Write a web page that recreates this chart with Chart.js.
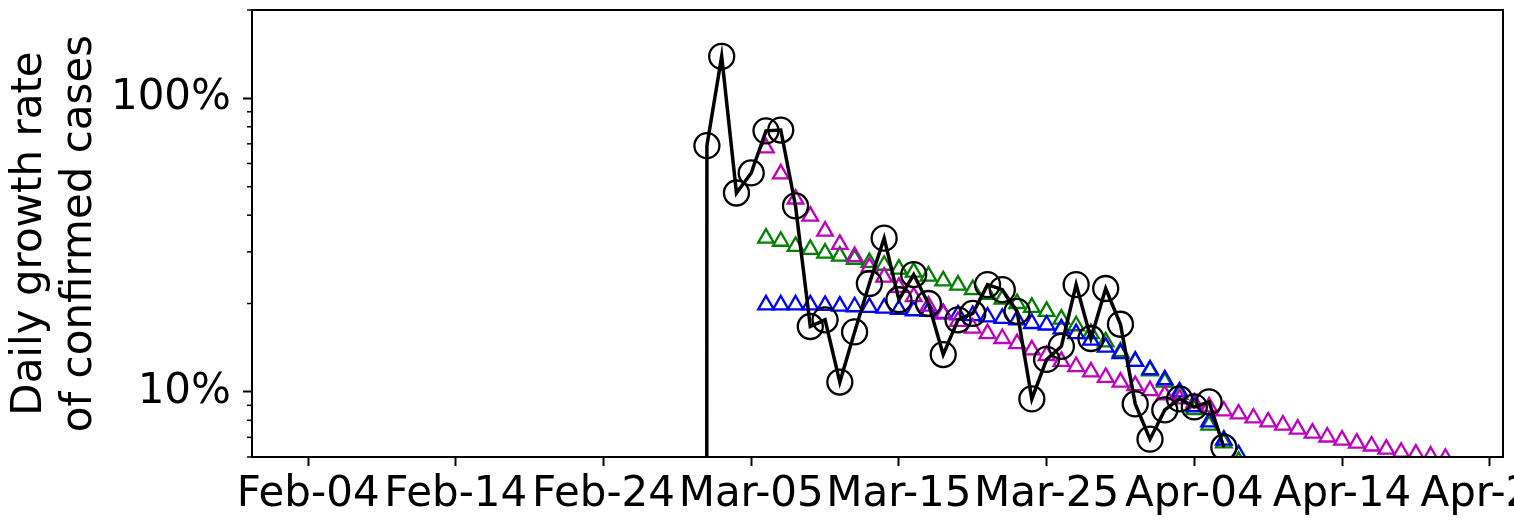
<!DOCTYPE html>
<html>
<head>
<meta charset="utf-8">
<script src="https://cdn.jsdelivr.net/npm/chart.js@4.4.1/dist/chart.umd.min.js"></script>
<style>
  html, body { margin: 0; padding: 0; background: #fff; }
  canvas { display: block; }
</style>
</head>
<body>
<canvas id="chart" width="1514" height="526"></canvas>
<script>
// ═══════════════════════════════════════
// DATA
// ═══════════════════════════════════════
// observed daily growth rate (fraction, 1 = 100%)
const observedDates = [
  'Mar-01','Mar-02','Mar-03','Mar-04','Mar-05','Mar-06','Mar-07','Mar-08','Mar-09','Mar-10',
  'Mar-11','Mar-12','Mar-13','Mar-14','Mar-15','Mar-16','Mar-17','Mar-18','Mar-19','Mar-20',
  'Mar-21','Mar-22','Mar-23','Mar-24','Mar-25','Mar-26','Mar-27','Mar-28','Mar-29','Mar-30',
  'Mar-31','Apr-01','Apr-02','Apr-03','Apr-04','Apr-05','Apr-06'
];
const observedRate = [
  0, 0.69, 1.39, 0.476, 0.557, 0.775, 0.78, 0.43, 0.167, 0.176,
  0.108, 0.16, 0.234, 0.334, 0.206, 0.251, 0.2, 0.134, 0.176, 0.185,
  0.232, 0.223, 0.188, 0.0946, 0.129, 0.143, 0.232, 0.152, 0.225, 0.17,
  0.091, 0.069, 0.0868, 0.0946, 0.0889, 0.0924, 0.0648
];

// fitted curves, all start Mar-06
const fitDates = [
  'Mar-06','Mar-07','Mar-08','Mar-09','Mar-10','Mar-11','Mar-12','Mar-13','Mar-14','Mar-15',
  'Mar-16','Mar-17','Mar-18','Mar-19','Mar-20','Mar-21','Mar-22','Mar-23','Mar-24','Mar-25',
  'Mar-26','Mar-27','Mar-28','Mar-29','Mar-30','Mar-31','Apr-01','Apr-02','Apr-03','Apr-04',
  'Apr-05','Apr-06','Apr-07','Apr-08','Apr-09','Apr-10','Apr-11','Apr-12','Apr-13','Apr-14',
  'Apr-15','Apr-16','Apr-17','Apr-18','Apr-19','Apr-20','Apr-21'
];
const fitMagenta = [
  0.678, 0.553, 0.454, 0.397, 0.353, 0.318, 0.289, 0.266, 0.246, 0.227,
  0.211, 0.196, 0.184, 0.174, 0.165, 0.158, 0.152, 0.146, 0.139, 0.133,
  0.127, 0.122, 0.117, 0.112, 0.108, 0.105, 0.101, 0.0977, 0.0946, 0.0917,
  0.0889, 0.0861, 0.0841, 0.0815, 0.079, 0.0771, 0.0747, 0.0724, 0.0702, 0.0685,
  0.0669, 0.0654, 0.0638, 0.0623, 0.0614, 0.0604, 0.0594
];
const fitGreen = [
  0.334, 0.326, 0.313, 0.306, 0.297, 0.29, 0.283, 0.276, 0.27, 0.262,
  0.256, 0.248, 0.239, 0.231, 0.223, 0.215, 0.207, 0.2, 0.194, 0.188,
  0.177, 0.168, 0.158, 0.148, 0.137, 0.127, 0.118, 0.108, 0.098, 0.087,
  0.077, 0.067, 0.058
];
const fitBlue = [
  0.198, 0.198, 0.198, 0.198, 0.197, 0.196, 0.195, 0.194, 0.193, 0.191,
  0.189, 0.188, 0.185, 0.183, 0.182, 0.18, 0.178, 0.176, 0.171, 0.169,
  0.164, 0.158, 0.15, 0.142, 0.135, 0.127, 0.119, 0.11, 0.1, 0.089,
  0.079, 0.0685, 0.061
];

const xTickLabels = ['Feb-04','Feb-14','Feb-24','Mar-05','Mar-15','Mar-25','Apr-04','Apr-14','Apr-24'];
const yMajorTicks = [0.1, 1];
const yMajorLabels = ['10%', '100%'];
const yMinorTicks = [0.06, 0.07, 0.08, 0.09, 0.2, 0.3, 0.4, 0.5, 0.6, 0.7, 0.8, 0.9, 2];

// ═══════════════════════════════════════
// UTILITIES
// ═══════════════════════════════════════
const MONTH_START = { Jan: 0, Feb: 31, Mar: 60, Apr: 91 }; // 2020, leap year
function dayOfYear(label) {
  const [m, d] = label.split('-');
  return MONTH_START[m] + parseInt(d, 10);
}
// zero growth is clipped far below the axis, like matplotlib's log scale does
function toPoints(dates, values) {
  return values.map((v, i) => ({ x: dayOfYear(dates[i]), y: v > 0 ? v : 1e-300 }));
}

const FONT = { family: 'DejaVu Sans', size: 42 };

function triangles(values, color, order) {
  return {
    data: toPoints(fitDates, values),
    showLine: false,
    pointStyle: 'triangle',
    pointRadius: 9,
    pointBorderWidth: 2.3,
    pointBorderColor: color,
    pointBackgroundColor: 'rgba(0,0,0,0)',
    clip: 0,
    order: order,
  };
}

// frame + minor log ticks
const framePlugin = {
  id: 'frame',
  afterDraw(chart) {
    const { ctx, chartArea: a } = chart;
    const y = chart.scales.y;
    ctx.save();
    ctx.strokeStyle = '#000';
    ctx.lineWidth = 1.5;
    yMinorTicks.forEach(v => {
      const py = y.getPixelForValue(v);
      ctx.beginPath();
      ctx.moveTo(a.left - 5, py);
      ctx.lineTo(a.left, py);
      ctx.stroke();
    });
    ctx.lineWidth = 2;
    ctx.strokeRect(a.left, a.top, a.right - a.left, a.bottom - a.top);
    ctx.restore();
  }
};

// ═══════════════════════════════════════
// CHART
// ═══════════════════════════════════════
new Chart(document.getElementById('chart'), {
  type: 'line',
  data: {
    datasets: [
      {
        data: toPoints(observedDates, observedRate),
        borderColor: '#000',
        borderWidth: 3.5,
        tension: 0,
        pointStyle: 'circle',
        pointRadius: 12.5,
        pointBorderWidth: 2.3,
        pointBorderColor: '#000',
        pointBackgroundColor: 'rgba(0,0,0,0)',
        clip: 0,
        order: 0,
      },
      triangles(fitMagenta, '#bf00bf', 1),
      triangles(fitBlue, '#0000ff', 2),
      triangles(fitGreen, '#008000', 3),
    ],
  },
  options: {
    responsive: false,
    animation: false,
    devicePixelRatio: 1,
    layout: { autoPadding: false, padding: { top: 10, right: 11, left: 0, bottom: 0 } },
    plugins: { legend: { display: false }, tooltip: { enabled: false } },
    scales: {
      x: {
        type: 'linear',
        min: 31.2,
        max: 115.9,
        bounds: 'data',
        border: { display: false },
        grid: { drawOnChartArea: false, tickLength: 9, tickWidth: 2, tickColor: '#000' },
        ticks: {
          autoSkip: false,
          maxRotation: 0,
          minRotation: 0,
          padding: 4,
          color: '#000',
          font: FONT,
          callback: (v, i) => xTickLabels[i],
        },
        afterBuildTicks: scale => {
          scale.ticks = xTickLabels.map(l => ({ value: dayOfYear(l) }));
        },
        afterFit: scale => {
          scale.height = 69;
          scale.paddingLeft = 0;
          scale.paddingRight = 0;
        },
      },
      y: {
        type: 'logarithmic',
        min: 0.06,
        max: 2,
        bounds: 'data',
        border: { display: false },
        grid: { drawOnChartArea: false, tickLength: 9, tickWidth: 2, tickColor: '#000' },
        ticks: {
          padding: 12,
          color: '#000',
          font: FONT,
          callback: v => yMajorLabels[yMajorTicks.indexOf(v)] || '',
        },
        afterBuildTicks: scale => {
          scale.ticks = yMajorTicks.map(v => ({ value: v, major: true }));
        },
        afterFit: scale => {
          scale.width = 252;
          scale.paddingTop = 0;
          scale.paddingBottom = 0;
        },
        title: {
          display: true,
          text: ['Daily growth rate', 'of confirmed cases'],
          color: '#000',
          font: { family: 'DejaVu Sans', size: 42, lineHeight: 1.19 },
          padding: { top: 5, bottom: 0 },
        },
      },
    },
  },
  plugins: [framePlugin],
});
</script>
</body>
</html>
